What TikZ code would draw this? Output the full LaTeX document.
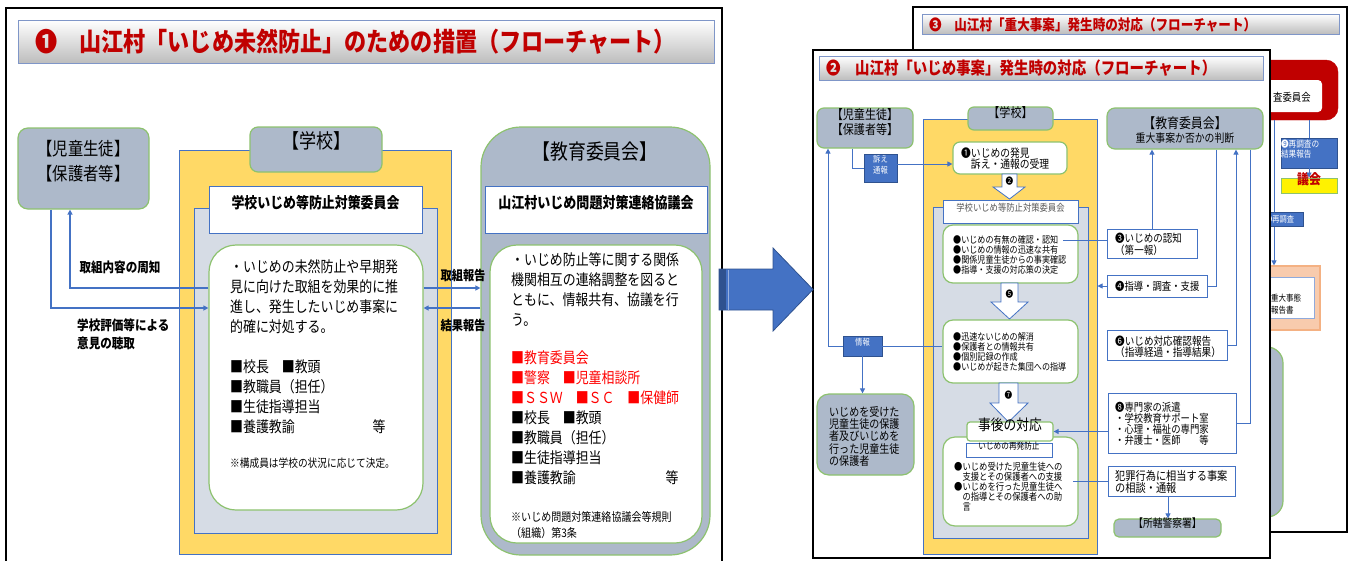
\documentclass[tikz,border=0pt]{standalone}
\usepackage{fontspec}
\setmainfont{Noto Sans CJK JP}[FakeStretch=0.85]
\usetikzlibrary{arrows.meta,fit}

\definecolor{yel}{HTML}{FFD966}
\definecolor{gb}{HTML}{ADB9CA}
\definecolor{pale}{HTML}{D6DCE5}
\definecolor{bl}{HTML}{4472C4}
\definecolor{bldark}{HTML}{2F528F}
\definecolor{grn}{HTML}{8DC26F}
\definecolor{dred}{HTML}{C00000}
\definecolor{rmem}{HTML}{FF0000}
\definecolor{peach}{HTML}{F8CBAD}
\definecolor{peachline}{HTML}{F4B183}
\definecolor{barline}{HTML}{7F96C8}
\definecolor{barbot}{HTML}{BDBDBD}

\newcommand\setfs[2]{\fontsize{#1}{#2}\selectfont}

\begin{document}
\begin{tikzpicture}[x=1pt,y=-1pt,
  frame/.style={draw=black,line width=1.8pt},
  bar/.style={draw=barline,line width=0.8pt,top color=white,bottom color=barbot},
  gbox/.style={fill=gb,draw=grn,line width=1.2pt},
  wbox/.style={fill=white,draw=grn,line width=1.2pt},
  bbox/.style={fill=white,draw=bl,line width=0.8pt},
  bluetag/.style={fill=bl,draw=bldark,line width=0.5pt,text=white},
  link/.style={draw=bl,line width=0.9pt},
  thick link/.style={draw=bl,line width=1.6pt},
  headed/.style={-{Triangle[length=5pt,width=5pt]}},
  txt/.style={inner sep=0pt,align=left,anchor=north west},
  lbl/.style={inner sep=0pt},
  fitbox/.style={inner sep=0pt},
  blockarrow/.style={fill=white,draw=bl,line width=0.8pt,line join=miter},
]
\useasboundingbox (0,0) rectangle (1354,560);
\clip (0,0) rectangle (1354,560);

% ---------------- panel 1: prevention measures ----------------
\draw[frame] (6,8) rectangle (722,575);
\node (ltitlebar) [bar, fitbox, fit={(18,20)(714,63)}] {};
\node (ltitle) [lbl, anchor=west, text=dred, font=\bfseries\setfs{26}{26}] at (35,42)
  {❶　山江村「いじめ未然防止」のための措置（フローチャート）};

\node (lkid) [gbox, rounded corners=10pt, fitbox, fit={(18,128)(149,209)}, align=center, font=\setfs{18}{25}]
  {【児童生徒】\\【保護者等】};

\node (lschool) [draw=bl, line width=1pt, fill=yel, fitbox, fit={(179,150)(451,554)}] {};
\node (lschoollabel) [gbox, rounded corners=8pt, fitbox, fit={(250,127)(382,172)}, font=\setfs{20}{20}] {【学校】};
\node (linner) [draw=bl, line width=1pt, fill=pale, fitbox, fit={(194,208)(437,533)}] {};
\node (lhead) [draw=bl, line width=1pt, fill=white, fitbox, fit={(209,186)(422,233)}, font=\bfseries\setfs{15.2}{15.2}]
  {学校いじめ等防止対策委員会};
\node (lcore) [wbox, rounded corners=27pt, fitbox, fit={(209,245)(423,510)}] {};
\node (lcoretext) [txt, font=\setfs{15.2}{20}] at (230,259.4)
  {・いじめの未然防止や早期発\\見に向けた取組を効果的に推\\進し、発生したいじめ事案に\\的確に対処する。};
\node (lcoremem) [txt, font=\setfs{15.2}{20}] at (230,359.4)
  {■校長　■教頭\\■教職員（担任）\\■生徒指導担当\\■養護教諭};
\node (lcoreetc) [lbl, font=\setfs{15.2}{20}] at (379,427) {等};
\node (lcorenote) [lbl, anchor=west, font=\setfs{11.4}{11.4}] at (230,463) {※構成員は学校の状況に応じて決定。};

\node (lboard) [gbox, rounded corners=40pt, fitbox, fit={(481,127)(710,555)}] {};
\node (lboardlabel) [lbl, font=\setfs{21}{21}] at (595,152) {【教育委員会】};
\node (lbhead) [draw=bl, line width=1pt, fill=white, fitbox, fit={(485,186)(707,233)}, font=\bfseries\setfs{15.3}{15.3}]
  {山江村いじめ問題対策連絡協議会};
\node (lbcore) [wbox, rounded corners=27pt, fitbox, fit={(490,245)(702,543)}] {};
\node (lbcoretext) [txt, font=\setfs{15.2}{20}] at (511,252.4)
  {・いじめ防止等に関する関係\\機関相互の連絡調整を図ると\\ともに、情報共有、協議を行\\う。};
\node (lbred) [txt, text=rmem, font=\setfs{15.2}{20}] at (511,350.4)
  {■教育委員会\\■警察　■児童相談所\\■ＳＳＷ　■ＳＣ　■保健師};
\node (lbmem) [txt, font=\setfs{15.2}{20}] at (511,410.4)
  {■校長　■教頭\\■教職員（担任）\\■生徒指導担当\\■養護教諭};
\node (lbetc) [lbl, font=\setfs{15.2}{20}] at (672,478) {等};
\node (lbnote) [txt, font=\setfs{11.8}{16}] at (511,511.1)
  {※いじめ問題対策連絡協議会等規則\\（組織）第3条};

% connectors of panel 1
\draw[thick link, headed] (lcore.west |- 0,288) -| (lkid.south -| 70,0);
\draw[thick link, headed] (lkid.south -| 51,0) |- (lcore.west |- 0,308);
\draw[thick link, headed] (lcore.east |- 0,288) -- (lboard.west |- 0,288);
\draw[thick link, headed] (lboard.west |- 0,308) -- (lcore.east |- 0,308);
\node (lnotice) [lbl, font=\bfseries\setfs{13.6}{13.6}] at (120,267) {取組内容の周知};
\node (lhear) [txt, font=\bfseries\setfs{13.6}{18}] at (77,318.2) {学校評価等による\\意見の聴取};
\node (lrep1) [lbl, font=\bfseries\setfs{13.2}{13.2}] at (463,275) {取組報告};
\node (lrep2) [lbl, font=\bfseries\setfs{13.2}{13.2}] at (463,325) {結果報告};

% ---------------- panel 3 (behind) ----------------
\draw[frame, fill=white] (913,7) rectangle (1347,532);
\node (r3bar) [bar, fitbox, fit={(922,14)(1339,34)}] {};
\node (r3title) [lbl, anchor=west, text=dred, font=\bfseries\setfs{14.8}{14.8}] at (929,25)
  {❸　山江村「重大事案」発生時の対応（フローチャート）};
\node (r3red) [fill=dred, draw=dred, rounded corners=12pt, fitbox, fit={(1225,60)(1338,120)}] {};
\node (r3redin) [fill=white, rounded corners=4pt, fitbox, fit={(1235,80)(1322,112)}] {};
\node (r3bracket) [lbl, text=white, font=\setfs{9}{9}] at (1271,71) {】};
\node (r3comm) [lbl, anchor=west, font=\setfs{11}{11}] at (1273,97) {査委員会};
\node (r3res) [bluetag, fitbox, fit={(1281,138)(1337,168)}, align=left, font=\setfs{9}{10}] {❾再調査の\\結果報告};
\node (r3gikai) [fill=yellow, draw=grn, line width=1pt, fitbox, fit={(1281,178)(1337,193)}, text=dred, font=\bfseries\setfs{14}{14}] {議会};
\draw[link] (r3red.south -| r3res.north) -- (r3res.north);
\draw[link, headed] (r3res.south) -- (r3gikai.north);
\node (r3report) [fill=peach, draw=peachline, line width=1.2pt, fitbox, fit={(1225,266)(1320,330)}] {};
\node (r3reportin) [fill=white, draw=bl!60, line width=0.6pt, fitbox, fit={(1225,277)(1314,318)}] {};
\node (r3reporttext) [txt, font=\setfs{8.8}{12}] at (1271,293.6) {重大事態\\報告書};
\draw[link, headed] (r3red.south -| 1274,0) -- (r3report.north -| 1274,0);
\node (r3re) [bluetag, fitbox, fit={(1235,212)(1303,226)}] {};
\node (r3retext) [lbl, anchor=west, text=white, font=\setfs{8.5}{8.5}] at (1265,219) {❾再調査};
\node (r3grey) [gbox, rounded corners=16pt, fitbox, fit={(1200,347)(1283,517)}] {};

% ---------------- panel 2 (front) ----------------
\draw[frame, fill=white] (813,50) rectangle (1270,558);
\node (r2bar) [bar, fitbox, fit={(819,56)(1263,80)}] {};
\node (r2title) [lbl, anchor=west, text=dred, font=\bfseries\setfs{17}{17}] at (826,68)
  {❷　山江村「いじめ事案」発生時の対応（フローチャート）};

\node (rkid) [gbox, rounded corners=7pt, fitbox, fit={(817,108)(913,148)}, align=center, font=\setfs{13}{15}]
  {【児童生徒】\\【保護者等】};
\node (ryel) [draw=bl, line width=1pt, fill=yel, fitbox, fit={(923,119)(1097,554)}] {};
\node (rschool) [gbox, rounded corners=6pt, fitbox, fit={(968,107)(1053,130)}, font=\setfs{13}{13}] {【学校】};
\node (rfound) [wbox, rounded corners=7pt, fitbox, fit={(953,142)(1067,174)}] {};
\node (rfoundtext) [txt, font=\setfs{11.5}{11}] at (961,147.25) {❶いじめの発見\\　訴え・通報の受理};

\node (rinner) [draw=bl, line width=1pt, fill=pale, fitbox, fit={(933,207)(1088,538)}] {};
\draw[blockarrow] (1002,174) -- (1017,174) -- (1017,187) -- (1025,187) -- (1009.5,199) -- (993,187) -- (1002,187) -- cycle;
\node (n2) [lbl, font=\setfs{9}{9}] at (1009.5,181) {❷};
\node (rhead) [draw=bl, line width=0.8pt, fill=white, fitbox, fit={(943,200)(1078,223)}, text=black!65, font=\setfs{9.8}{9.8}]
  {学校いじめ等防止対策委員会};

\node (rg1) [wbox, rounded corners=10pt, fitbox, fit={(943,225)(1078,283)}] {};
\node (rg1text) [txt, font=\setfs{9.5}{10}] at (953,235.25)
  {●いじめの有無の確認・認知\\●いじめの情報の迅速な共有\\●関係児童生徒からの事実確認\\●指導・支援の対応策の決定};
\draw[blockarrow] (1001,283) -- (1018,283) -- (1018,302) -- (1028,302) -- (1009.5,319) -- (991,302) -- (1001,302) -- cycle;
\node (n5) [lbl, font=\setfs{9}{9}] at (1009.5,294) {❺};

\node (rg2) [wbox, rounded corners=10pt, fitbox, fit={(943,320)(1078,383)}] {};
\node (rg2text) [txt, font=\setfs{9.5}{10}] at (953,332.25)
  {●迅速ないじめの解消\\●保護者との情報共有\\●個別記録の作成\\●いじめが起きた集団への指導};
\draw[blockarrow] (999,383) -- (1018,383) -- (1018,403) -- (1028,403) -- (1008.5,422) -- (990,403) -- (999,403) -- cycle;
\node (n7) [lbl, font=\setfs{9}{9}] at (1008.5,395) {❼};

\node (rg3) [wbox, rounded corners=12pt, fitbox, fit={(943,437)(1078,526)}] {};
\node (rjigo) [fill=white, draw=grn, line width=1.2pt, rounded corners=3pt, fitbox, fit={(967,422)(1053,441)}, font=\setfs{15}{15}] {事後の対応};
\node (rsaihatsu) [bbox, fitbox, fit={(966,443)(1052,457)}, font=\setfs{9}{9}] {いじめの再発防止};
\node (rg3text) [txt, font=\setfs{9.8}{10}] at (954,462.1)
  {●いじめ受けた児童生徒への\\　支援とその保護者への支援\\●いじめを行った児童生徒へ\\　の指導とその保護者への助\\　言};

% left column of panel 2
\node (ruttae) [bluetag, fitbox, fit={(864,154)(897,182)}, align=center, font=\setfs{8.6}{11}] {訴え\\通報};
\draw[link] (rkid.south -| 852,0) |- (ruttae.west);
\draw[link, headed] (ruttae.east |- 0,164) -- (rfound.west |- 0,164);
\node (rjoho) [bluetag, fitbox, fit={(843,336)(882,356)}, font=\setfs{8.6}{8.6}] {情報};
\draw[link] (rjoho.east) -- (rg2.west |- rjoho.east);
\draw[link, headed] (rjoho.west) -| (rkid.south -| 828,0);
\node (rparent) [gbox, rounded corners=12pt, fitbox, fit={(817,394)(914,475)}] {};
\draw[link, headed] (rjoho.south) -- (rparent.north -| rjoho.south);
\node (rparenttext) [txt, font=\setfs{11.8}{12.3}] at (829,406.1)
  {いじめを受けた\\児童生徒の保護\\者及びいじめを\\行った児童生徒\\の保護者};

% right column of panel 2
\node (rboard) [gbox, rounded corners=8pt, fitbox, fit={(1107,108)(1263,149)}] {};
\node (rboardlabel) [lbl, font=\setfs{14}{14}] at (1185,123) {【教育委員会】};
\node (rboardsub) [lbl, font=\setfs{11.6}{11.6}] at (1185,138) {重大事案か否かの判断};
\node (rb3) [bbox, fitbox, fit={(1107,229)(1197,258)}] {};
\node (rb3text) [txt, font=\setfs{11.2}{12}] at (1115,232.4) {❸いじめの認知\\（第一報）};
\node (rb4) [bbox, fitbox, fit={(1107,275)(1207,297)}] {};
\node (rb4text) [lbl, anchor=west, font=\setfs{11}{11}] at (1115,286) {❹指導・調査・支援};
\node (rb6) [bbox, fitbox, fit={(1107,330)(1227,360)}] {};
\node (rb6text) [txt, font=\setfs{11.3}{11}] at (1115,335.4) {❻いじめ対応確認報告\\（指導経過・指導結果）};
\node (rb8) [bbox, fitbox, fit={(1108,393)(1236,453)}] {};
\node (rb8text) [txt, font=\setfs{11}{11}] at (1115,401.5)
  {❽専門家の派遣\\・学校教育サポート室\\・心理・福祉の専門家\\・弁護士・医師　　等};
\node (rcrime) [bbox, fitbox, fit={(1108,466)(1235,496)}] {};
\node (rcrimetext) [txt, font=\setfs{12}{11}] at (1115,470) {犯罪行為に相当する事案\\の相談・通報};
\node (rpolice) [gbox, rounded corners=5pt, fitbox, fit={(1114,519)(1221,537)}, font=\setfs{11.5}{11.5}] {【所轄警察署】};

\coordinate (g1end) at (1063,240);
\draw[link] (g1end) -- (rb3.west |- g1end);
\draw[link, headed] (rb3.north -| 1152,0) -- (rboard.south -| 1152,0);
\draw[link] (rboard.south -| 1216,0) |- (rb4.east);
\draw[link, headed] (rb4.west) -- (ryel.east |- rb4.west);
\draw[link, headed] (rb6.east) -| (rboard.south -| 1236,0);
\draw[link] (rboard.south -| 1250,0) |- (rb8.east);
\draw[link, headed] (rb8.west |- rjigo.east) -- (rjigo.east);
\coordinate (g3end) at (1073,481);
\draw[link] (g3end) -- (rcrime.west |- g3end);
\draw[link, headed] (rcrime.south -| 1168,0) -- (rpolice.north -| 1168,0);

% ---------------- transition arrow ----------------
\draw[fill=bl, draw=bldark, line width=0.8pt, line join=miter]
  (719,269) -- (773,269) -- (773,248) -- (813,289.5) -- (773,331) -- (773,310) -- (719,310) -- cycle;
\fill[bldark] (719,269) rectangle (726,310);
\draw[bl!55!white, line width=1pt] (728.5,269.5) -- (728.5,309.5);
\end{tikzpicture}
\end{document}
